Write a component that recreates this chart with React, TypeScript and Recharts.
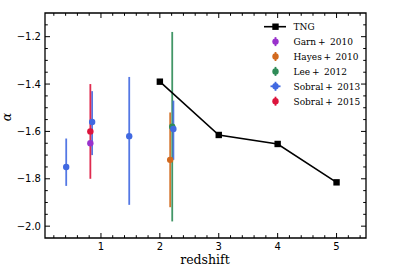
import { ComposedChart, ErrorBar, ReferenceArea, Scatter, XAxis, YAxis } from 'recharts'

const W = 407
const H = 271
const PLOT_LEFT = 45
const PLOT_RIGHT = 366
const PLOT_TOP = 13
const PLOT_BOTTOM = 238

const X_DOMAIN: [number, number] = [0.05, 5.5]
const Y_DOMAIN: [number, number] = [-2.05, -1.1]

// TNG prediction
const tngZ = [2, 3, 4, 5]
const tngAlpha = [-1.39, -1.615, -1.653, -1.815]

// observations: z, alpha, error below, error above
const garnZ = [0.82]
const garnAlpha = [-1.65]
const garnLo = [0]
const garnHi = [0]

const hayesZ = [2.175]
const hayesAlpha = [-1.72]
const hayesLo = [0.2]
const hayesHi = [0.2]

const leeZ = [2.21]
const leeAlpha = [-1.58]
const leeLo = [0.4]
const leeHi = [0.4]

const sobral13Z = [0.41, 0.85, 1.48, 2.23]
const sobral13Alpha = [-1.75, -1.56, -1.62, -1.59]
const sobral13Lo = [0.08, 0.14, 0.29, 0.13]
const sobral13Hi = [0.12, 0.13, 0.25, 0.12]

const sobral15Z = [0.82]
const sobral15Alpha = [-1.6]
const sobral15Lo = [0.2]
const sobral15Hi = [0.2]

const xMajor = [1, 2, 3, 4, 5]
const yMajor = [-2.0, -1.8, -1.6, -1.4, -1.2]

const xTicks: number[] = []
for (let v = 0.2; v < X_DOMAIN[1]; v += 0.2) xTicks.push(Math.round(v * 10) / 10)
const yTicks: number[] = []
for (let v = -2.0; v < Y_DOMAIN[1] - 0.01; v += 0.05) yTicks.push(Math.round(v * 100) / 100)

const COLORS = {
  tng: '#000000',
  garn: '#9932cc',
  hayes: '#d2691e',
  lee: '#2e8b57',
  sobral13: '#4169e1',
  sobral15: '#dc143c',
}

const toRows = (z: number[], a: number[], lo?: number[], hi?: number[]) =>
  z.map((x, i) => ({ x, y: a[i], err: lo && hi ? [lo[i], hi[i]] : undefined }))

const series = [
  { author: 'Garn', year: '2010', color: COLORS.garn, data: toRows(garnZ, garnAlpha, garnLo, garnHi) },
  { author: 'Hayes', year: '2010', color: COLORS.hayes, data: toRows(hayesZ, hayesAlpha, hayesLo, hayesHi) },
  { author: 'Lee', year: '2012', color: COLORS.lee, data: toRows(leeZ, leeAlpha, leeLo, leeHi) },
  { author: 'Sobral', year: '2013', color: COLORS.sobral13, data: toRows(sobral13Z, sobral13Alpha, sobral13Lo, sobral13Hi) },
  { author: 'Sobral', year: '2015', color: COLORS.sobral15, data: toRows(sobral15Z, sobral15Alpha, sobral15Lo, sobral15Hi) },
]

const tngData = toRows(tngZ, tngAlpha)

const fmt = (v: number, d: number) => (v < 0 ? '\u2212' : '') + Math.abs(v).toFixed(d)

function XTick(props: any) {
  const { x, y, payload } = props
  const v = payload.value as number
  const major = xMajor.some((m) => Math.abs(m - v) < 1e-6)
  const len = major ? 5 : 2.8
  return (
    <g>
      <line x1={x} x2={x} y1={y} y2={y - len} stroke="#000" strokeWidth={1} />
      <line x1={x} x2={x} y1={PLOT_TOP} y2={PLOT_TOP + len} stroke="#000" strokeWidth={1} />
      {major ? (
        <text x={x} y={y + 11.5} textAnchor="middle" fontFamily="DejaVu Sans" fontSize={10} fill="#000">
          {fmt(v, 0)}
        </text>
      ) : null}
    </g>
  )
}

function YTick(props: any) {
  const { x, y, payload } = props
  const v = payload.value as number
  const major = yMajor.some((m) => Math.abs(m - v) < 1e-6)
  const len = major ? 5 : 2.8
  return (
    <g>
      <line x1={x} x2={x + len} y1={y} y2={y} stroke="#000" strokeWidth={1} />
      <line x1={PLOT_RIGHT} x2={PLOT_RIGHT - len} y1={y} y2={y} stroke="#000" strokeWidth={1} />
      {major ? (
        <text x={x - 4} y={y + 3.5} textAnchor="end" fontFamily="DejaVu Sans" fontSize={10} fill="#000">
          {fmt(v, 1)}
        </text>
      ) : null}
    </g>
  )
}

const dot = (color: string) => (p: any) => <circle cx={p.cx} cy={p.cy} r={3.2} fill={color} />
const square = (p: any) => <rect x={p.cx - 3.2} y={p.cy - 3.2} width={6.4} height={6.4} fill="#000" />

function LegendBox() {
  const textX = 293.5
  const top = 26.7
  const step = 14.9
  const mx = 275.5
  return (
    <svg width={W} height={H} style={{ position: 'absolute', left: 0, top: 0, pointerEvents: 'none' }}>
      <line x1={264} x2={286} y1={top} y2={top} stroke="#000" strokeWidth={1.6} />
      <rect x={mx - 3.2} y={top - 3.2} width={6.4} height={6.4} fill="#000" />
      <text x={textX} y={top + 3.3} fontFamily="DejaVu Serif" fontSize={9} fill="#000">
        TNG
      </text>
      {series.map((s, i) => {
        const cy = top + step * (i + 1)
        return (
          <g key={s.author + s.year}>
            <line x1={mx} x2={mx} y1={cy - 4.5} y2={cy + 4.5} stroke={s.color} strokeWidth={1.8} />
            {s.author === 'Sobral' && s.year === '2013' ? (
              <line x1={mx - 5} x2={mx + 5} y1={cy} y2={cy} stroke={s.color} strokeWidth={1.8} />
            ) : null}
            <circle cx={mx} cy={cy} r={3.2} fill={s.color} />
            <text x={textX} y={cy + 3.3} fontFamily="DejaVu Serif" fontSize={9} fill="#000" xmlSpace="preserve">
              {s.author + '\u2009+\u2002' + s.year}
            </text>
          </g>
        )
      })}
    </svg>
  )
}

export default function App() {
  return (
    <div style={{ position: 'absolute', left: 0, top: 0, width: W, height: H, background: '#fff' }}>
      <ComposedChart width={W} height={H} margin={{ top: PLOT_TOP, right: W - PLOT_RIGHT, bottom: 0, left: 0 }}>
        <XAxis
          type="number"
          dataKey="x"
          domain={X_DOMAIN}
          allowDataOverflow
          ticks={xTicks}
          interval={0}
          height={H - PLOT_BOTTOM}
          tickSize={0}
          tickMargin={0}
          tickLine={false}
          axisLine={false}
          tick={<XTick />}
          label={{
            content: () => (
              <text x={205} y={264} textAnchor="middle" fontFamily="DejaVu Serif" fontSize={12.5} fill="#000">
                redshift
              </text>
            ),
          }}
        />
        <YAxis
          type="number"
          dataKey="y"
          domain={Y_DOMAIN}
          allowDataOverflow
          ticks={yTicks}
          interval={0}
          width={PLOT_LEFT}
          tickSize={0}
          tickMargin={0}
          tickLine={false}
          axisLine={false}
          tick={<YTick />}
          label={{
            content: () => (
              <text
                x={11}
                y={117}
                transform="rotate(-90 11 117)"
                textAnchor="middle"
                fontFamily="DejaVu Serif"
                fontStyle="italic"
                fontSize={12.5}
                fill="#000"
              >
                α
              </text>
            ),
          }}
        />
        <ReferenceArea
          x1={X_DOMAIN[0]}
          x2={X_DOMAIN[1]}
          y1={Y_DOMAIN[0]}
          y2={Y_DOMAIN[1]}
          fill="none"
          stroke="#000"
          strokeWidth={1.3}
          ifOverflow="extendDomain"
        />
        <Scatter
          name="TNG"
          data={tngData}
          line={{ stroke: '#000', strokeWidth: 1.6 }}
          shape={square}
          isAnimationActive={false}
        />
        {series.map((s) => (
          <Scatter
            key={s.author + s.year}
            name={s.author + ' + ' + s.year}
            data={s.data}
            shape={dot(s.color)}
            isAnimationActive={false}
          >
            <ErrorBar dataKey="err" direction="y" width={0} stroke={s.color} strokeWidth={1.8} strokeOpacity={0.9} />
          </Scatter>
        ))}
      </ComposedChart>
      <LegendBox />
    </div>
  )
}
